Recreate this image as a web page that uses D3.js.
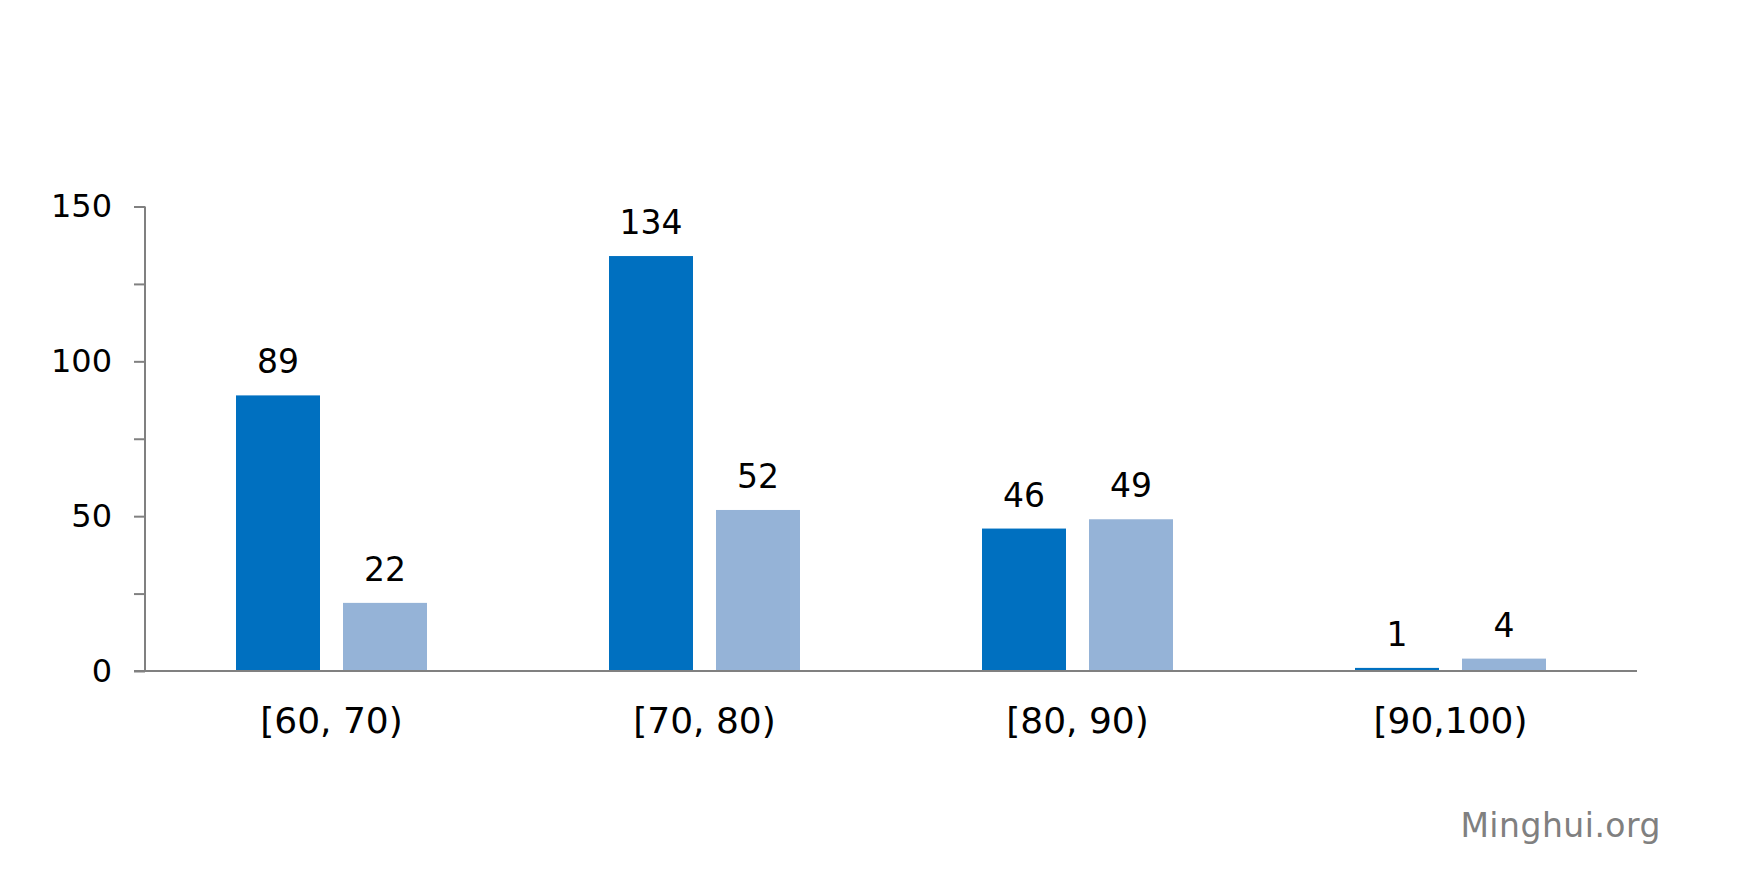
<!DOCTYPE html>
<html>
<head>
<meta charset="utf-8">
<script src="https://cdn.jsdelivr.net/npm/d3@7"></script>
<style>
  html, body { margin: 0; padding: 0; background: #ffffff; }
  svg { display: block; }
  text { font-family: Verdana, "DejaVu Sans", sans-serif; }
</style>
</head>
<body>
<svg id="chart" width="1742" height="880"></svg>
<script>
const categories = ["[60, 70)", "[70, 80)", "[80, 90)", "[90,100)"];
const seriesNames = ["s1", "s2"];
const series1 = [89, 134, 46, 1];
const series2 = [22, 52, 49, 4];
const yTicks = [0, 25, 50, 75, 100, 125, 150];
const yTickLabels = ["0", "", "50", "", "100", "", "150"];
const colors = ["#0070C0", "#95B3D7"];
const watermark = "Minghui.org";

const svg = d3.select("#chart");
const plot = { left: 145, right: 1637, top: 206.5, bottom: 671 };

const x = d3.scaleBand().domain(categories).range([plot.left, plot.right]).paddingInner(0).paddingOuter(0);
const bw = x.bandwidth();
const xInner = d3.scaleBand().domain(seriesNames)
  .range([bw * 91 / 373, bw * 282 / 373]).paddingInner(0.215).paddingOuter(0);
const y = d3.scaleLinear().domain([0, 150]).range([plot.bottom, plot.top]);

const data = categories.map((c, i) => ({ cat: c, vals: [series1[i], series2[i]] }));

// bars
const groups = svg.append("g").selectAll("g").data(data).join("g")
  .attr("transform", d => `translate(${x(d.cat)},0)`);
groups.selectAll("rect").data(d => d.vals.map((v, j) => ({ v, s: seriesNames[j], j })))
  .join("rect")
  .attr("x", d => xInner(d.s))
  .attr("width", xInner.bandwidth())
  .attr("y", d => y(d.v))
  .attr("height", d => y(0) - y(d.v))
  .attr("fill", d => colors[d.j]);

// value labels
groups.selectAll("text.val").data(d => d.vals.map((v, j) => ({ v, s: seriesNames[j], j })))
  .join("text").attr("class", "val")
  .attr("x", d => xInner(d.s) + xInner.bandwidth() / 2)
  .attr("y", d => y(d.v) - 22)
  .attr("text-anchor", "middle")
  .attr("font-size", 33)
  .attr("fill", "#000")
  .text(d => d.v);

// y axis
const yAxis = d3.axisLeft(y).tickValues(yTicks)
  .tickFormat((d, i) => yTickLabels[i]).tickSize(11).tickPadding(22);
const gy = svg.append("g").attr("transform", `translate(${plot.left},0)`).call(yAxis);
gy.select(".domain").attr("stroke", "#808080").attr("stroke-width", 2)
  .attr("d", `M0,${plot.top}V${plot.bottom}`);
gy.selectAll(".tick line").attr("stroke", "#808080").attr("stroke-width", 2);
gy.selectAll(".tick text").attr("font-size", 32).attr("fill", "#000")
  .attr("font-family", 'Verdana, "DejaVu Sans", sans-serif');

// x axis
const xAxis = d3.axisBottom(x).tickSize(0).tickPadding(0);
const gx = svg.append("g").attr("transform", `translate(0,${plot.bottom})`).call(xAxis);
gx.select(".domain").attr("stroke", "#808080").attr("stroke-width", 2)
  .attr("d", `M${plot.left - 11},0H${plot.right}`);
gx.selectAll(".tick text").attr("font-size", 36).attr("fill", "#000")
  .attr("font-family", 'Verdana, "DejaVu Sans", sans-serif')
  .attr("dy", null).attr("y", 62);

// watermark
svg.append("text")
  .attr("x", 1661).attr("y", 837)
  .attr("text-anchor", "end")
  .attr("font-size", 33)
  .attr("letter-spacing", 0.5)
  .attr("fill", "#808080")
  .text(watermark);
</script>
</body>
</html>
